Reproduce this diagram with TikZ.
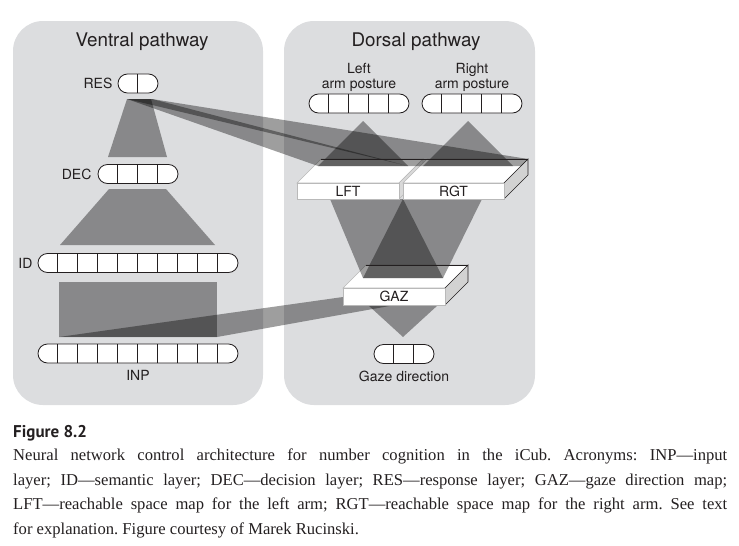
\documentclass[tikz,border=0pt]{standalone}
\usepackage{fontspec}
\setmainfont{Liberation Serif}
\setsansfont{TeX Gyre Heros}
\newfontfamily\figfont{PT Sans}
\usetikzlibrary{positioning, calc}
\definecolor{panelgray}{HTML}{DCDDDF}
\definecolor{inkblack}{HTML}{231F20}
\frenchspacing

\tikzset{
    panel/.style={fill=panelgray, rounded corners=30pt},
    bar/.style={draw=inkblack, line width=0.8pt, fill=white, rounded corners=9.5pt,
        minimum height=19pt, inner sep=0pt},
    proj/.style={fill=black, fill opacity=0.38},
    lbl/.style={font=\sffamily\fontsize{14}{15}\selectfont, text=inkblack, inner sep=0pt},
    title/.style={font=\sffamily\fontsize{18.8}{20}\selectfont, text=inkblack, inner sep=0pt},
    face/.style={fill=white, draw=gray!55, line width=0.6pt},
    side/.style={fill=gray!35, draw=inkblack, line width=0.6pt},
    edge/.style={draw=inkblack, line width=0.7pt},
}

% dividers of a layer bar, 20pt apart
\newcommand{\cells}[2]{%
    \foreach \k in {1,...,#2}
        \draw[draw=inkblack, line width=0.8pt] ($(#1.south west)+(20*\k,0)$) -- ($(#1.north west)+(20*\k,0)$);
}

\begin{document}
\begin{tikzpicture}[x=1pt, y=-1pt]
    \useasboundingbox (0,0) rectangle (739,546);
    \fill[panel] (13,21) rectangle (263,405);
    \fill[panel] (284,21) rectangle (535,405);
    \node[title] (ventral) at (142,42) {Ventral pathway};
    \node[title] (dorsal) at (416,42) {Dorsal pathway};

    % slab tops and sides
    \draw[face] (297,183) -- (399,183) -- (423,159) -- (321,159) -- cycle;
    \draw[face, fill=gray!30] (399,183) -- (423,159) -- (423,175) -- (399,199) -- cycle;
    \draw[face] (403,183) -- (504,183) -- (528,159) -- (427,159) -- cycle;
    \draw[side] (504,183) -- (528,159) -- (528,175) -- (504,199) -- cycle;
    \draw[face] (343,288) -- (445,288) -- (468,265) -- (366,265) -- cycle;
    \draw[side] (445,288) -- (468,265) -- (468,282) -- (445,305) -- cycle;

    % projection ends
    \coordinate (res l) at (127,99);
    \coordinate (res r) at (152,99);
    \coordinate (lft l) at (318,166);
    \coordinate (lft r) at (408,166);
    \coordinate (rgt l) at (423,166);
    \coordinate (rgt r) at (513,166);
    \coordinate (gaz l) at (363,278);
    \coordinate (gaz r) at (443,278);

    % projections
    \fill[proj] (res l) -- (151,99) -- (167,157) -- (108,157) -- cycle;
    \fill[proj] (109,189) -- (166,189) -- (215,245) -- (60,245) -- cycle;
    \fill[proj] (59,282) rectangle (217,337);
    \fill[proj] (res l) -- (res r) -- (lft r) -- (lft l) -- cycle;
    \fill[proj] (res l) -- (res r) -- (528,159) -- (521,166) -- (lft r) -- cycle;
    \fill[proj] (363,121) -- (lft r) -- (lft l) -- cycle;
    \fill[proj] (468,121) -- (rgt r) -- (rgt l) -- cycle;
    \fill[proj] (330,199) -- (403,199) -- (gaz r) -- (gaz l) -- cycle;
    \fill[proj] (403,199) -- (482,199) -- (gaz r) -- (gaz l) -- cycle;
    \fill[proj] (368,305) -- (438,305) -- (403,337) -- cycle;
    \fill[proj] (59,337) -- (217,337) -- (395,305) -- (343,297) -- cycle;

    % slab fronts
    \node[face, lbl, minimum width=102pt, minimum height=16pt] (lft) at (348,191) {LFT};
    \node[face, lbl, minimum width=101pt, minimum height=16pt] (rgt) at (453.5,191) {RGT};
    \node[face, lbl, minimum width=102pt, minimum height=17pt] (gaz) at (394,296.5) {GAZ};
    \draw[edge] (321,159) -- (528,159);
    \draw[edge] (366,265) -- (468,265);

    % layers
    \node[bar, minimum width=40pt] (res) at (138,83.5) {};
    \cells{res}{1}
    \node[bar, minimum width=80pt] (dec) at (138,174) {};
    \cells{dec}{3}
    \node[bar, minimum width=200pt] (id) at (138,263) {};
    \cells{id}{9}
    \node[bar, minimum width=200pt] (inp) at (138,353.5) {};
    \cells{inp}{9}
    \node[bar, minimum width=100pt] (lpost) at (359,103.5) {};
    \cells{lpost}{4}
    \node[bar, minimum width=100pt] (rpost) at (472,103.5) {};
    \cells{rpost}{4}
    \node[bar, minimum width=60pt] (gaze) at (404,354) {};
    \cells{gaze}{2}

    \node[lbl, left=5pt of res] (res lbl) {RES};
    \node[lbl, left=6pt of dec] (dec lbl) {DEC};
    \node[lbl, left=5pt of id] (id lbl) {ID};
    \node[lbl, below=7pt of inp] (inp lbl) {INP};
    \node[lbl, below=7pt of gaze] (gaze lbl) {Gaze direction};
    \node[lbl, align=center, above=2pt of lpost] (lpost lbl) {Left\\arm posture};
    \node[lbl, align=center, above=2pt of rpost] (rpost lbl) {Right\\arm posture};

    % caption
    \node[anchor=west, inner sep=0pt, text=inkblack, font=\figfont\bfseries\fontsize{17}{19}\selectfont] (fig) at (13,433) {Figure 8.2};
    \node[anchor=north west, inner sep=0pt, text width=714pt, align=justify, text=inkblack,
        font=\fontsize{16.6}{24.5}\selectfont] (caption) at (13,449)
        {Neural network control architecture for number cognition in the iCub. Acronyms: INP—input\linebreak
        layer; ID—semantic layer; DEC—decision layer; RES—response layer; GAZ—gaze direction map;\linebreak
        LFT—reachable space map for the left arm; RGT—reachable space map for the right arm. See text\linebreak
        for explanation. Figure courtesy of Marek Rucinski.};
\end{tikzpicture}
\end{document}
